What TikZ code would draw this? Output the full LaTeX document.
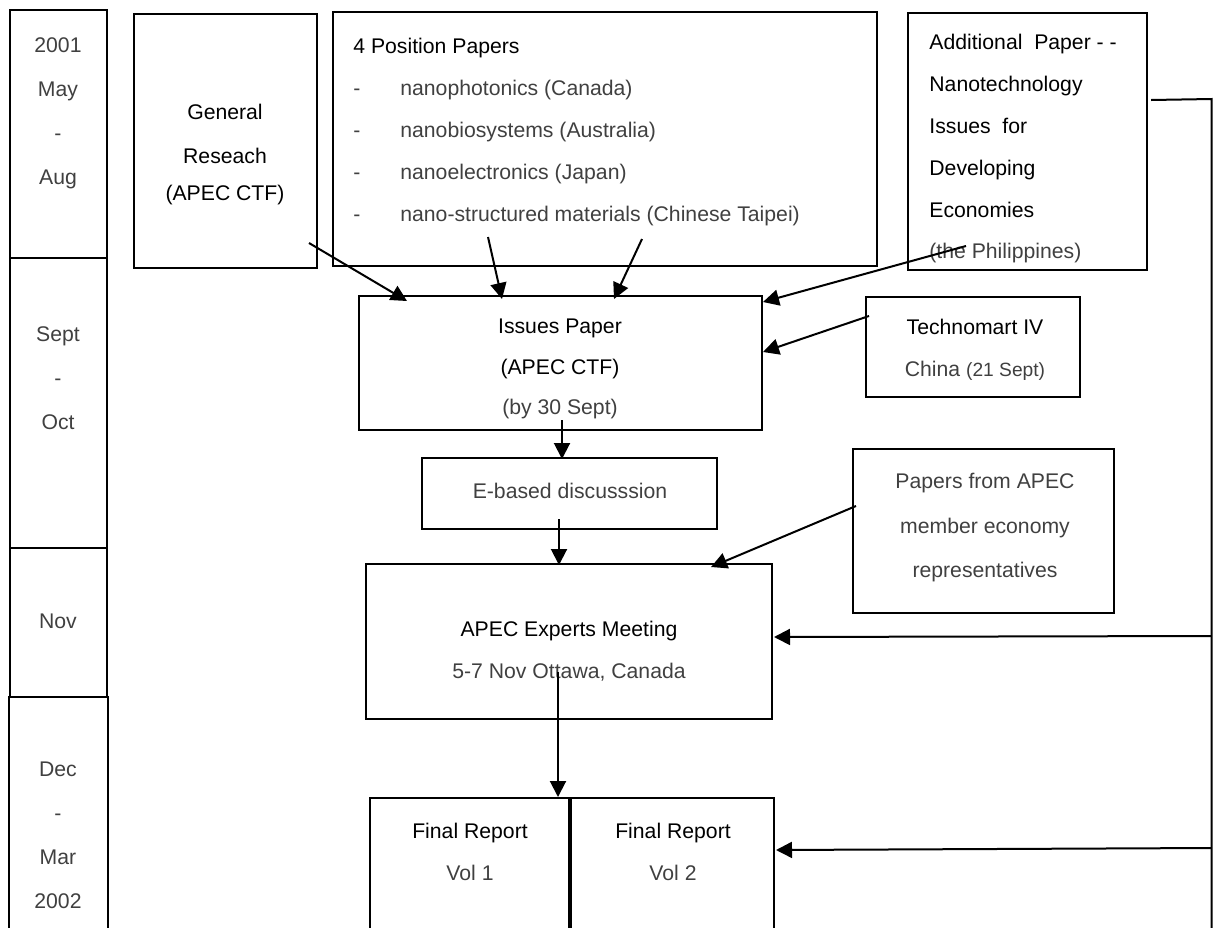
\documentclass[tikz,border=0pt]{standalone}
\usepackage{fontspec}
\setmainfont{Liberation Sans}
\usetikzlibrary{arrows.meta,calc,fit}
\definecolor{txtgray}{gray}{0.25}
\tikzset{
  box/.style={draw=black, line width=1pt, inner sep=0pt},
  txt/.style={inner sep=0pt, align=center, text=black},
  ltxt/.style={inner sep=0pt, align=left, anchor=west, text=black},
  arr/.style={line width=1pt, -{Triangle[length=8pt,width=8pt]}},
  ln/.style={line width=1pt},
  fs/.style={font={\fontsize{10.6}{#1}\selectfont}}
}
\newcommand{\gr}[1]{\textcolor{txtgray}{#1}}
\begin{document}
\begin{tikzpicture}[x=0.5pt,y=-0.5pt]
\useasboundingbox (0,0) rectangle (1215,927);
% month column
\node[box, fit={(10,10) (107,258)}] (m1) {};
\node[box, fit={(10,258) (107,548)}] (m2) {};
\node[box, fit={(10,548) (107,697)}] (m3) {};
\node[box, fit={(9,697) (108,935)}] (m4) {};
\node[txt, fs=22pt] (m1t) at (58,113) {\gr{2001}\\\gr{May}\\\gr{-}\\\gr{Aug}};
\node[txt, fs=22pt] (m2t) at (58,378) {\gr{Sept}\\\gr{-}\\\gr{Oct}};
\node[txt, fs=22pt] (m3t) at (58,621) {\gr{Nov}};
\node[txt, fs=22pt] (m4t) at (58,835) {\gr{Dec}\\\gr{-}\\\gr{Mar}\\\gr{2002}};
% top row
\node[box, fit={(134,14) (317,268)}] (gen) {};
\node[txt, fs=22pt] (gent) at (225,155) {General\\Reseach\\[-3.5pt](APEC CTF)};
\node[box, fit={(333,12) (877,266)}] (pos) {};
\node[ltxt, fs=21.1pt] (post) at (353,132) {4 Position Papers\\
\gr{\makebox[23.5pt][l]{-}nanophotonics (Canada)}\\
\gr{\makebox[23.5pt][l]{-}nanobiosystems (Australia)}\\
\gr{\makebox[23.5pt][l]{-}nanoelectronics (Japan)}\\
\gr{\makebox[23.5pt][l]{-}nano-structured materials (Chinese Taipei)}};
\node[box, fit={(908,13) (1147,270)}] (add) {};
\node[ltxt, fs=20.9pt] (addt) at (929,149) {Additional\ \ Paper - -\\Nanotechnology\\Issues\ \ for\\Developing\\Economies\\\gr{(the Philippines)}};
% middle
\node[box, fit={(359,296) (762,430)}] (issues) {};
\node[txt, fs=20.25pt] (isst) at (560,369) {Issues Paper\\(APEC CTF)\\\gr{(by 30 Sept)}};
\node[box, fit={(866,297) (1080,397)}] (tech) {};
\node[txt, fs=21pt] (techt) at (975,350) {Technomart IV\\\gr{China {\fontsize{9.6}{21pt}\selectfont(21 Sept)}}};
\node[box, fit={(422,458) (717,529)}] (ebased) {};
\node[txt, fs=21pt] (ebt) at (570,491) {\gr{E-based discusssion}};
\node[box, fit={(853,449) (1114,613)}] (papers) {};
\node[txt, fs=22.25pt] (papt) at (985,528) {\gr{Papers from APEC}\\\gr{member economy}\\\gr{representatives}};
\node[box, fit={(366,564) (772,719)}] (apec) {};
\node[txt, fs=21pt] (apect) at (569,651) {APEC Experts Meeting\\\gr{5-7 Nov Ottawa, Canada}};
\node[box, fit={(370,798) (569,935)}] (fr1) {};
\node[box, fit={(571,798) (774,935)}] (fr2) {};
\node[txt, fs=21pt] (fr1t) at (470,852) {Final Report\\\gr{Vol 1}};
\node[txt, fs=21pt] (fr2t) at (673,852) {Final Report\\\gr{Vol 2}};
% connectors
\draw[arr] ($(gen.south east)+(-9,-26)$) -- ($(issues.north west)+(49,6)$);
\draw[arr] ($(pos.south west)+(156,-30)$) -- ($(issues.north west)+(144,4)$);
\draw[arr] ($(pos.south west)+(310,-28)$) -- ($(issues.north west)+(256,4)$);
\draw[arr] ($(add.south west)+(59,-25)$) -- ($(issues.north east)+(0,7)$);
\draw[arr] ($(tech.north west)+(4,20)$) -- ($(issues.north east)+(0,57)$);
\draw[arr] ($(issues.south west)+(204,-11)$) -- ($(ebased.north west)+(141,2)$);
\draw[arr] ($(ebased.south west)+(138,-11)$) -- ($(apec.north west)+(194,2)$);
\draw[arr] ($(papers.north west)+(4,58)$) -- ($(apec.north west)+(346,4)$);
\draw[arr] ($(apec.north west)+(193,109)$) -- ($(fr1.north west)+(189,0)$);
% right feedback line
\coordinate (r1) at (1211.5,99);
\coordinate (r2) at (1211.5,935);
\coordinate (r10) at (1211.5,636);
\coordinate (r11) at (1211.5,848);
\draw[ln] ($(add.north east)+(3,88)$) -- (r1) -- (r2);
\draw[arr] (r10) -- ($(apec.north east)+(1,74)$);
\draw[arr] (r11) -- ($(fr2.north east)+(1,53)$);
\end{tikzpicture}
\end{document}
